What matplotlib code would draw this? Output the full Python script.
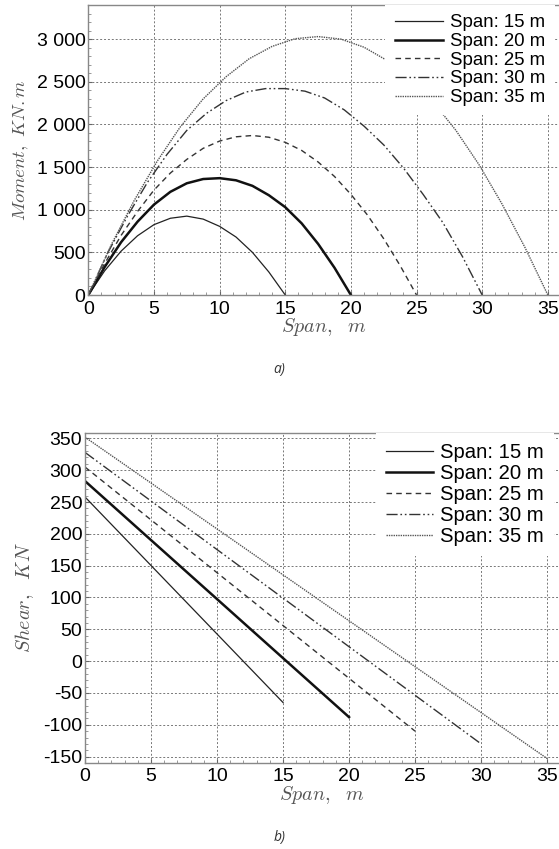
import numpy as np
import matplotlib
matplotlib.use("Agg")
import matplotlib.pyplot as plt
from matplotlib.ticker import MultipleLocator, FuncFormatter

plt.rcParams["font.family"] = ["Liberation Sans", "DejaVu Sans"]
plt.rcParams["mathtext.fontset"] = "cm"
plt.rcParams["axes.unicode_minus"] = False

labels = ["Span: 15 m", "Span: 20 m", "Span: 25 m", "Span: 30 m", "Span: 35 m"]

# Moment envelopes
m_x15 = [0, 1.25, 2.5, 3.75, 5, 6.25, 7.5, 8.75, 10, 11.25, 12.5, 13.75, 15]
m_y15 = [0, 285, 515, 695, 825, 900, 925, 890, 805, 680, 500, 270, 0]
m_x20 = [0, 1.25, 2.5, 3.75, 5, 6.25, 7.5, 8.75, 10, 11.25, 12.5, 13.75, 15, 16.25, 17.5, 18.75, 20]
m_y20 = [0, 330, 620, 860, 1060, 1210, 1310, 1360, 1370, 1345, 1280, 1170, 1030, 840, 600, 320, 0]
m_x25 = [0, 1.25, 2.5, 3.75, 5, 6.25, 7.5, 8.75, 10, 11.25, 12.5, 13.75, 15,
         16.25, 17.5, 18.75, 20, 21.25, 22.5, 23.75, 25]
m_y25 = [0, 370, 700, 980, 1230, 1430, 1590, 1720, 1805, 1855, 1870, 1850, 1790,
         1695, 1560, 1390, 1180, 940, 660, 345, 0]
m_x30 = [0, 1.5, 3, 4.5, 6, 7.5, 9, 10.5, 12, 13.5, 15, 16.5, 18, 19.5, 21,
         22.5, 24, 25.5, 27, 28.5, 30]
m_y30 = [0, 500, 930, 1320, 1650, 1930, 2130, 2280, 2380, 2420, 2420, 2390, 2310,
         2170, 1980, 1760, 1490, 1180, 850, 450, 0]
m_x35 = [0, 1.75, 3.5, 5.25, 7, 8.75, 10.5, 12.25, 14, 15.75, 17.5, 19.25, 21,
         22.75, 24.5, 26.25, 28, 29.75, 31.5, 33.25, 35]
m_y35 = [0, 590, 1110, 1570, 1970, 2300, 2560, 2770, 2915, 3005, 3030, 3000, 2905,
         2750, 2535, 2265, 1930, 1530, 1070, 560, 0]

# Shear lines
s_x15 = [0, 15]
s_y15 = [258, -65]
s_x20 = [0, 20]
s_y20 = [283, -88]
s_x25 = [0, 25]
s_y25 = [305, -110]
s_x30 = [0, 30]
s_y30 = [328, -130]
s_x35 = [0, 35]
s_y35 = [352, -153]

moment = [(m_x15, m_y15), (m_x20, m_y20), (m_x25, m_y25), (m_x30, m_y30), (m_x35, m_y35)]
shear = [(s_x15, s_y15), (s_x20, s_y20), (s_x25, s_y25), (s_x30, s_y30), (s_x35, s_y35)]

styles = [
    dict(color="#222222", lw=0.9, ls="-"),
    dict(color="#111111", lw=1.8, ls="-"),
    dict(color="#333333", lw=1.0, ls=(0, (4, 3))),
    dict(color="#333333", lw=1.0, ls=(0, (8, 2, 1.2, 2, 1.2, 2))),
    dict(color="#555555", lw=1.0, ls=(0, (1, 0.7))),
]

fig = plt.figure(figsize=(5.59, 8.49), dpi=100)
ax1 = fig.add_axes([0.158, 0.6525, 0.842, 0.3416])
ax2 = fig.add_axes([0.152, 0.1017, 0.848, 0.3887])


def style_axes(ax):
    ax.grid(True, which="major", color="#777777", ls=(0, (2, 2)), lw=0.7)
    ax.xaxis.set_major_locator(MultipleLocator(5))
    ax.xaxis.set_minor_locator(MultipleLocator(1))
    ax.tick_params(which="both", direction="in", labelsize=14)
    ax.tick_params(axis="x", pad=4)
    ax.tick_params(axis="y", pad=2)
    ax.tick_params(which="major", length=3, color="#666666")
    ax.tick_params(which="minor", length=2, color="#888888")
    for s in ax.spines.values():
        s.set_color("#888888")
        s.set_linewidth(1.0)
    ax.spines["right"].set_visible(False)


def white_legend(ax, fs, anchor, hl, htp, ls):
    leg = ax.legend(loc="upper right", bbox_to_anchor=anchor, frameon=True, fontsize=fs,
                    handlelength=hl, handletextpad=htp, labelspacing=ls,
                    borderaxespad=0, borderpad=0.5, fancybox=False)
    leg.get_frame().set_edgecolor("none")
    leg.get_frame().set_facecolor("white")
    leg.get_frame().set_alpha(1)
    return leg


for (x, y), st, lab in zip(moment, styles, labels):
    ax1.plot(x, y, label=lab, **st)
style_axes(ax1)
ax1.set_xlim(0, 35.85)
ax1.set_ylim(0, 3400)
ax1.yaxis.set_major_locator(MultipleLocator(500))
ax1.yaxis.set_minor_locator(MultipleLocator(100))
ax1.yaxis.set_major_formatter(FuncFormatter(lambda v, p: f"{int(v):,}".replace(",", " ")))
ax1.set_xlabel(r"$Span,\ \ m$", fontsize=14.5, color="#555555", labelpad=-1)
ax1.set_ylabel(r"$Moment,\ KN.m$", fontsize=13.5, color="#555555", labelpad=4)
white_legend(ax1, 13.4, (0.9915, 1.0), 2.58, 0.41, 0.09)

for (x, y), st, lab in zip(shear, styles, labels):
    ax2.plot(x, y, label=lab, **st)
style_axes(ax2)
ax2.set_xlim(0, 35.9)
ax2.set_ylim(-159.5, 359)
ax2.yaxis.set_major_locator(MultipleLocator(50))
ax2.yaxis.set_minor_locator(MultipleLocator(10))
ax2.set_xlabel(r"$Span,\ \ m$", fontsize=14.5, color="#555555", labelpad=-1)
ax2.set_ylabel(r"$Shear,\ \ KN$", fontsize=14.5, color="#555555", labelpad=5)
white_legend(ax2, 14.6, (0.99, 1.0), 2.3, 0.38, 0.1)

fig.text(0.5, 1 - 370 / 849, "a)", ha="center", va="center", fontsize=10,
         style="italic", family="Open Sans", color="#333333")
fig.text(0.5, 1 - 838 / 849, "b)", ha="center", va="center", fontsize=10,
         style="italic", family="Open Sans", color="#333333")

fig.savefig("out.png", dpi=100)
